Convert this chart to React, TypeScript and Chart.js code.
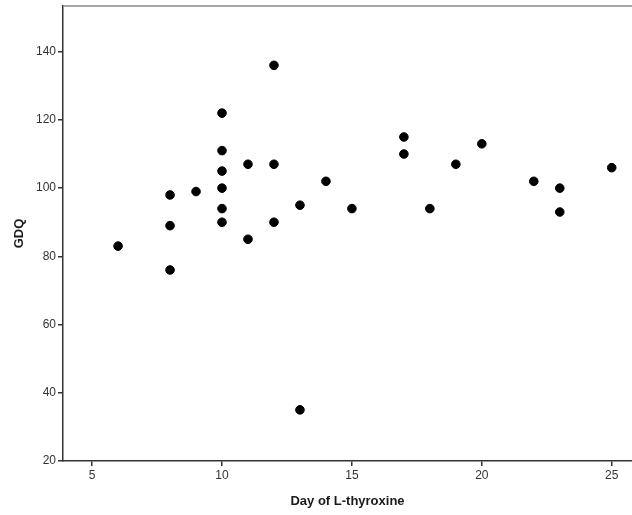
import React, { useEffect, useRef } from "react";
import { Chart, registerables } from "chart.js";

Chart.register(...registerables);

const dayOfLThyroxine = [6, 8, 8, 8, 9, 10, 10, 10, 10, 10, 10, 11, 11, 12, 12, 12, 13, 13, 14, 15, 17, 17, 18, 19, 20, 22, 23, 23, 25];
const gdqValues = [83, 98, 89, 76, 99, 122, 111, 105, 100, 94, 90, 107, 85, 136, 107, 90, 95, 35, 102, 94, 115, 110, 94, 107, 113, 102, 100, 93, 106];
const xTickValues = [5, 10, 15, 20, 25];
const yTickValues = [20, 40, 60, 80, 100, 120, 140];

const topBorder = {
  id: "topBorder",
  afterDraw(chart: any) {
    const { ctx, chartArea } = chart;
    ctx.save();
    ctx.strokeStyle = "#8a8a8a";
    ctx.lineWidth = 1.5;
    ctx.beginPath();
    ctx.moveTo(chartArea.left, chartArea.top);
    ctx.lineTo(chartArea.right, chartArea.top);
    ctx.stroke();
    ctx.restore();
  },
};

export default function App() {
  const ref = useRef<HTMLCanvasElement>(null);
  useEffect(() => {
    const points = dayOfLThyroxine.map((d, i) => ({ x: d, y: gdqValues[i] }));
    const chart = new Chart(ref.current!, {
      type: "scatter",
      data: {
        datasets: [
          {
            data: points,
            backgroundColor: "#000",
            borderColor: "#000",
            pointRadius: 4.3,
            pointHoverRadius: 4.3,
          },
        ],
      },
      options: {
        animation: false,
        responsive: false,
        layout: { autoPadding: false, padding: { top: 6, right: 0, left: 0, bottom: 0 } },
        plugins: { legend: { display: false }, tooltip: { enabled: false } },
        scales: {
          x: {
            type: "linear",
            min: 3.88,
            max: 25.78,
            afterBuildTicks: (s: any) => {
              s.ticks = xTickValues.map((v) => ({ value: v }));
            },
            afterFit: (s: any) => {
              s.height = 54;
              s.paddingLeft = 0;
              s.paddingRight = 0;
            },
            grid: { drawOnChartArea: false, tickLength: 5, color: "#333", lineWidth: 1.5 },
            border: { color: "#333", width: 1.5 },
            ticks: { color: "#333", font: { family: "Liberation Sans, Arial", size: 12 }, padding: 2 },
            title: {
              display: true,
              text: "Day of L-thyroxine",
              color: "#1a1a1a",
              font: { family: "Liberation Sans, Arial", size: 13, weight: "bold" },
              padding: { top: 6, bottom: 6 },
            },
          },
          y: {
            type: "linear",
            min: 20,
            max: 153.4,
            afterBuildTicks: (s: any) => {
              s.ticks = yTickValues.map((v) => ({ value: v }));
            },
            afterFit: (s: any) => {
              s.width = 63;
              s.paddingTop = 0;
              s.paddingBottom = 0;
            },
            grid: { drawOnChartArea: false, tickLength: 5, color: "#333", lineWidth: 1.5 },
            border: { color: "#333", width: 1.5 },
            ticks: { color: "#333", font: { family: "Liberation Sans, Arial", size: 12 }, padding: 2 },
            title: {
              display: true,
              text: "GDQ",
              color: "#1a1a1a",
              font: { family: "Liberation Sans, Arial", size: 13, weight: "bold" },
              padding: { top: 12, bottom: 4 },
            },
          },
        },
      },
      plugins: [topBorder],
    });
    return () => chart.destroy();
  }, []);
  return (
    <div style={{ position: "fixed", left: 0, top: 0, width: 632, height: 515, background: "#fff" }}>
      <canvas ref={ref} width={632} height={515} style={{ display: "block" }} />
    </div>
  );
}
